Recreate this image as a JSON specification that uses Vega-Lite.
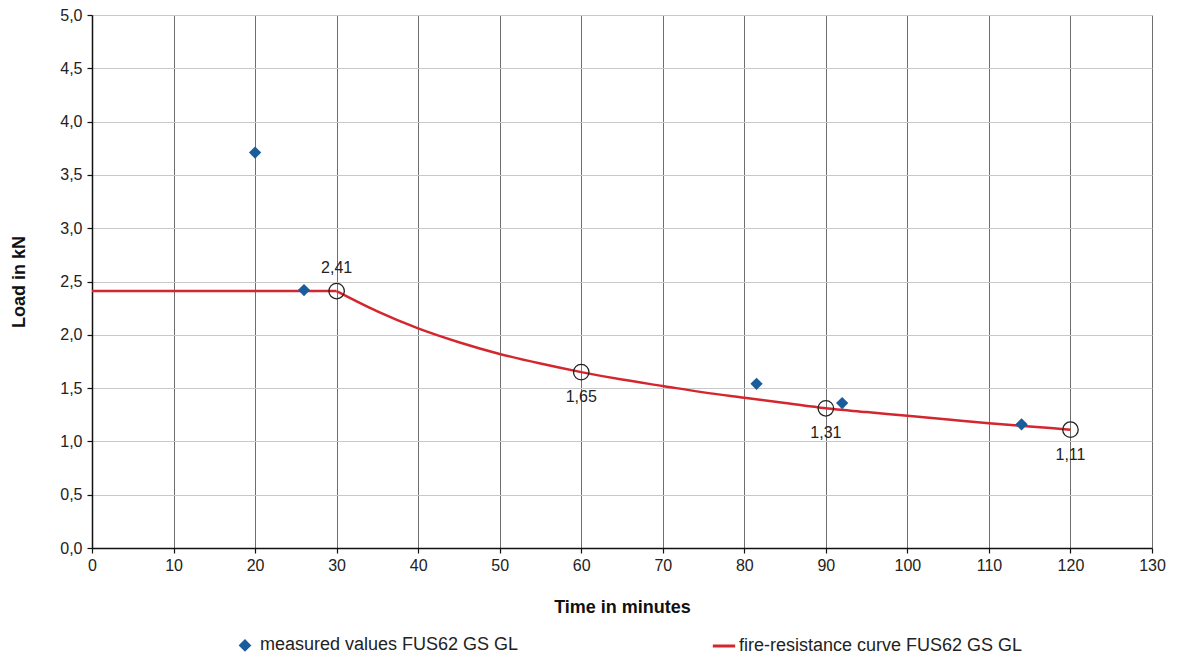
{
  "$schema": "https://vega.github.io/schema/vega-lite/v6.json",
  "width": 1060,
  "height": 533,
  "autosize": "none",
  "padding": {"left": 92, "top": 15, "right": 28, "bottom": 110},
  "background": "white",
  "config": {
    "font": "Liberation Sans",
    "view": {"stroke": null},
    "axis": {"labelFont": "Liberation Sans", "titleFont": "Liberation Sans", "labelColor": "#222", "titleColor": "#111"}
  },
  "datasets": {
    "measured": [
      {"t": 20, "v": 3.71, "series": "measured values FUS62 GS GL"},
      {"t": 26, "v": 2.42, "series": "measured values FUS62 GS GL"},
      {"t": 81.5, "v": 1.54, "series": "measured values FUS62 GS GL"},
      {"t": 92, "v": 1.36, "series": "measured values FUS62 GS GL"},
      {"t": 114, "v": 1.16, "series": "measured values FUS62 GS GL"}
    ],
    "curve": [
      {"t": 0, "v": 2.41, "seg": "a", "series": "fire-resistance curve FUS62 GS GL"},
      {"t": 30, "v": 2.41, "seg": "a", "series": "fire-resistance curve FUS62 GS GL"},
      {"t": 30, "v": 2.41, "seg": "b", "series": "fire-resistance curve FUS62 GS GL"},
      {"t": 35, "v": 2.22, "seg": "b", "series": "fire-resistance curve FUS62 GS GL"},
      {"t": 40, "v": 2.06, "seg": "b", "series": "fire-resistance curve FUS62 GS GL"},
      {"t": 45, "v": 1.93, "seg": "b", "series": "fire-resistance curve FUS62 GS GL"},
      {"t": 50, "v": 1.82, "seg": "b", "series": "fire-resistance curve FUS62 GS GL"},
      {"t": 55, "v": 1.73, "seg": "b", "series": "fire-resistance curve FUS62 GS GL"},
      {"t": 60, "v": 1.65, "seg": "b", "series": "fire-resistance curve FUS62 GS GL"},
      {"t": 65, "v": 1.58, "seg": "b", "series": "fire-resistance curve FUS62 GS GL"},
      {"t": 70, "v": 1.52, "seg": "b", "series": "fire-resistance curve FUS62 GS GL"},
      {"t": 75, "v": 1.46, "seg": "b", "series": "fire-resistance curve FUS62 GS GL"},
      {"t": 80, "v": 1.41, "seg": "b", "series": "fire-resistance curve FUS62 GS GL"},
      {"t": 85, "v": 1.36, "seg": "b", "series": "fire-resistance curve FUS62 GS GL"},
      {"t": 90, "v": 1.31, "seg": "b", "series": "fire-resistance curve FUS62 GS GL"},
      {"t": 95, "v": 1.275, "seg": "b", "series": "fire-resistance curve FUS62 GS GL"},
      {"t": 100, "v": 1.24, "seg": "b", "series": "fire-resistance curve FUS62 GS GL"},
      {"t": 105, "v": 1.205, "seg": "b", "series": "fire-resistance curve FUS62 GS GL"},
      {"t": 110, "v": 1.17, "seg": "b", "series": "fire-resistance curve FUS62 GS GL"},
      {"t": 115, "v": 1.14, "seg": "b", "series": "fire-resistance curve FUS62 GS GL"},
      {"t": 120, "v": 1.11, "seg": "b", "series": "fire-resistance curve FUS62 GS GL"}
    ],
    "marks": [
      {"t": 30, "v": 2.41, "label": "2,41", "pos": "above"},
      {"t": 60, "v": 1.65, "label": "1,65", "pos": "below"},
      {"t": 90, "v": 1.31, "label": "1,31", "pos": "below"},
      {"t": 120, "v": 1.11, "label": "1,11", "pos": "below"}
    ]
  },
  "encoding": {
    "x": {
      "field": "t", "type": "quantitative",
      "scale": {"domain": [0, 130], "nice": false, "zero": false},
      "axis": {
        "title": "Time in minutes", "titleFontSize": 18, "titleFontWeight": "bold", "titlePadding": 25,
        "values": [0,10,20,30,40,50,60,70,80,90,100,110,120,130],
        "labelFontSize": 16, "labelPadding": 4, "labelFlush": false,
        "domainColor": "#111", "domainWidth": 1.5, "tickColor": "#111", "tickSize": 5, "tickWidth": 1.2,
        "gridColor": "#6e6e6e", "gridWidth": 1
      }
    },
    "y": {
      "field": "v", "type": "quantitative",
      "scale": {"domain": [0, 5], "nice": false},
      "axis": {
        "title": "Load in kN", "titleFontSize": 18, "titleFontWeight": "bold", "titlePadding": 31,
        "values": [0,0.5,1,1.5,2,2.5,3,3.5,4,4.5,5],
        "labelExpr": "replace(format(datum.value, '.1f'), '.', ',')",
        "labelFontSize": 16, "labelPadding": 5, "labelFlush": false,
        "domainColor": "#111", "domainWidth": 1.5, "tickColor": "#111", "tickSize": 5, "tickWidth": 1.2,
        "gridColor": "#c8c8c8", "gridWidth": 1
      }
    }
  },
  "layer": [
    {
      "data": {"name": "curve"},
      "mark": {"type": "line", "interpolate": "monotone", "strokeWidth": 2.5},
      "encoding": {
        "detail": {"field": "seg", "type": "nominal"},
        "color": {
          "field": "series", "type": "nominal",
          "scale": {
            "domain": ["measured values FUS62 GS GL", "fire-resistance curve FUS62 GS GL"],
            "range": ["#1b5c9a", "#d4262e"]
          },
          "legend": {
            "orient": "none", "legendX": 140, "legendY": 617, "direction": "horizontal", "title": null,
            "labelFontSize": 18, "labelFont": "Liberation Sans", "labelColor": "#222", "labelLimit": 500,
            "columnPadding": 187, "symbolSize": 500, "labelOffset": 2,
            "encode": {
              "symbols": {
                "update": {
                  "shape": {"signal": "datum.value == 'measured values FUS62 GS GL' ? 'diamond' : 'stroke'"},
                  "size": {"signal": "datum.value == 'measured values FUS62 GS GL' ? 70 : 500"},
                  "fill": {"signal": "datum.value == 'measured values FUS62 GS GL' ? '#1b5c9a' : 'transparent'"},
                  "stroke": {"signal": "datum.value == 'measured values FUS62 GS GL' ? 'transparent' : '#d4262e'"},
                  "strokeWidth": {"value": 3},
                  "opacity": {"value": 1}
                }
              }
            }
          }
        }
      }
    },
    {
      "data": {"name": "measured"},
      "mark": {"type": "point", "shape": "diamond", "filled": true, "size": 150, "opacity": 1, "color": "#1b5c9a"}
    },
    {
      "data": {"name": "marks"},
      "mark": {"type": "point", "shape": "circle", "filled": false, "size": 240, "stroke": "#222", "strokeWidth": 1.3, "opacity": 1}
    },
    {
      "data": {"name": "marks"},
      "transform": [{"filter": "datum.pos == 'above'"}],
      "mark": {"type": "text", "dy": -23, "fontSize": 16, "font": "Liberation Sans", "color": "#222"},
      "encoding": {"text": {"field": "label"}}
    },
    {
      "data": {"name": "marks"},
      "transform": [{"filter": "datum.pos == 'below'"}],
      "mark": {"type": "text", "dy": 25, "fontSize": 16, "font": "Liberation Sans", "color": "#222"},
      "encoding": {"text": {"field": "label"}}
    }
  ]
}
